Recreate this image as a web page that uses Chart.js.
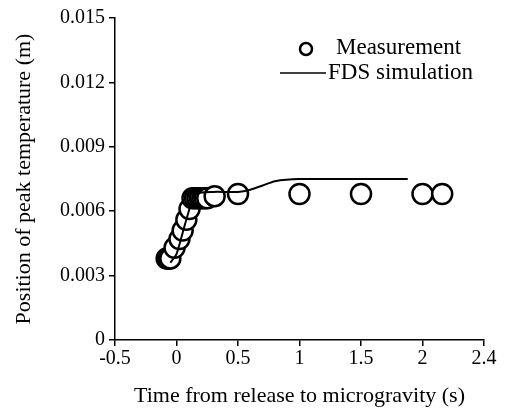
<!DOCTYPE html>
<html>
<head>
<meta charset="utf-8">
<script src="https://cdn.jsdelivr.net/npm/chart.js@4.4.0/dist/chart.umd.min.js"></script>
<style>
  html, body { margin: 0; padding: 0; background: #fff; }
  #wrap { width: 507px; height: 418px; }
</style>
</head>
<body>
<div id="wrap"><canvas id="chart" width="507" height="418"></canvas></div>
<script>
// measured points (time s, position m)
const measTime = [-0.08, -0.07, -0.06, -0.05, -0.016, 0.024, 0.05, 0.08, 0.106,
  0.13, 0.15, 0.17, 0.19, 0.21, 0.23, 0.25, 0.31, 0.5, 1.0, 1.5, 2.0, 2.16];
const measPos = [0.0038, 0.0038, 0.0038, 0.0038, 0.0043, 0.0047, 0.0051, 0.0056, 0.0061,
  0.0066, 0.0066, 0.0066, 0.0066, 0.0066, 0.0066, 0.0066, 0.0067, 0.0068, 0.0068, 0.0068, 0.0068, 0.0068];

// FDS simulation curve
const simTime = [-0.05, 0.0, 0.05, 0.1, 0.15, 0.3, 0.5, 0.6, 0.7, 0.8, 1.0, 1.5, 1.88];
const simPos = [0.0036, 0.0040, 0.0050, 0.0060, 0.0068, 0.0069, 0.0069, 0.0070, 0.0072, 0.0074, 0.0075, 0.0075, 0.0075];

const xTickLabels = ['-0.5', '0', '0.5', '1', '1.5', '2', '2.4'];
const yTickLabels = ['0', '0.003', '0.006', '0.009', '0.012', '0.015'];

const serif = 'Liberation Serif';

let legendInside = {
  id: 'legendInside',
  afterDraw: function(chart){
    const ctx = chart.ctx;
    ctx.save();
    ctx.fillStyle = '#000';
    ctx.strokeStyle = '#000';
    ctx.font = '23px "' + serif + '"';
    ctx.textBaseline = 'middle';
    // measurement symbol
    ctx.beginPath();
    ctx.lineWidth = 2.5;
    ctx.arc(306, 49, 6, 0, Math.PI * 2);
    ctx.stroke();
    ctx.fillText(chart.data.datasets[1].label, 336, 48);
    // simulation symbol
    ctx.beginPath();
    ctx.lineWidth = 1.5;
    ctx.moveTo(280, 73);
    ctx.lineTo(326, 73);
    ctx.stroke();
    ctx.fillText(chart.data.datasets[0].label, 328, 73);
    ctx.restore();
  }
};

let ctx = document.getElementById('chart').getContext('2d');
new Chart(ctx, {
  type: 'scatter',
  data: {
    datasets: [
      {
        label: 'FDS simulation',
        type: 'line',
        data: simTime.map(function(t, i){ return {x: t, y: simPos[i]}; }),
        borderColor: '#000',
        borderWidth: 2,
        pointRadius: 0,
        fill: false,
        tension: 0.2,
        order: 0
      },
      {
        label: 'Measurement',
        data: measTime.map(function(t, i){ return {x: t, y: measPos[i]}; }),
        pointRadius: 10,
        pointBorderWidth: 2.5,
        pointBorderColor: '#000',
        pointBackgroundColor: '#fff',
        order: 1
      }
    ]
  },
  options: {
    responsive: false,
    animation: false,
    layout: { padding: { left: 0, right: 23, top: 18, bottom: 0 } },
    plugins: {
      legend: { display: false },
      tooltip: { enabled: false }
    },
    scales: {
      x: {
        type: 'linear',
        min: -0.5,
        max: 2.5,
        afterFit: function(scale){ scale.height = 78; },
        afterBuildTicks: function(scale){
          scale.ticks = xTickLabels.map(function(l, i){ return {value: -0.5 + 0.5 * i}; });
        },
        ticks: {
          color: '#000',
          font: { family: serif, size: 20 },
          padding: 1,
          maxRotation: 0,
          callback: function(v, i){ return xTickLabels[i]; }
        },
        grid: { drawOnChartArea: false, drawTicks: true, tickLength: 6, color: '#000', lineWidth: 1.5 },
        border: { color: '#000', width: 1.5 },
        title: {
          display: true,
          text: 'Time from release to microgravity (s)',
          color: '#000',
          font: { family: serif, size: 22 },
          padding: { top: 0, bottom: 9 }
        }
      },
      y: {
        type: 'linear',
        min: 0,
        max: 0.015,
        afterFit: function(scale){ scale.width = 115; },
        afterBuildTicks: function(scale){
          scale.ticks = yTickLabels.map(function(l, i){ return {value: 0.003 * i}; });
        },
        ticks: {
          color: '#000',
          font: { family: serif, size: 20 },
          padding: 4,
          callback: function(v, i){ return yTickLabels[i]; }
        },
        grid: { drawOnChartArea: false, drawTicks: true, tickLength: 6, color: '#000', lineWidth: 1.5 },
        border: { color: '#000', width: 1.5 },
        title: {
          display: true,
          text: 'Position of peak temperature (m)',
          color: '#000',
          font: { family: serif, size: 22 },
          padding: { top: 11, bottom: 0 }
        }
      }
    }
  },
  plugins: [legendInside]
});
</script>
</body>
</html>
